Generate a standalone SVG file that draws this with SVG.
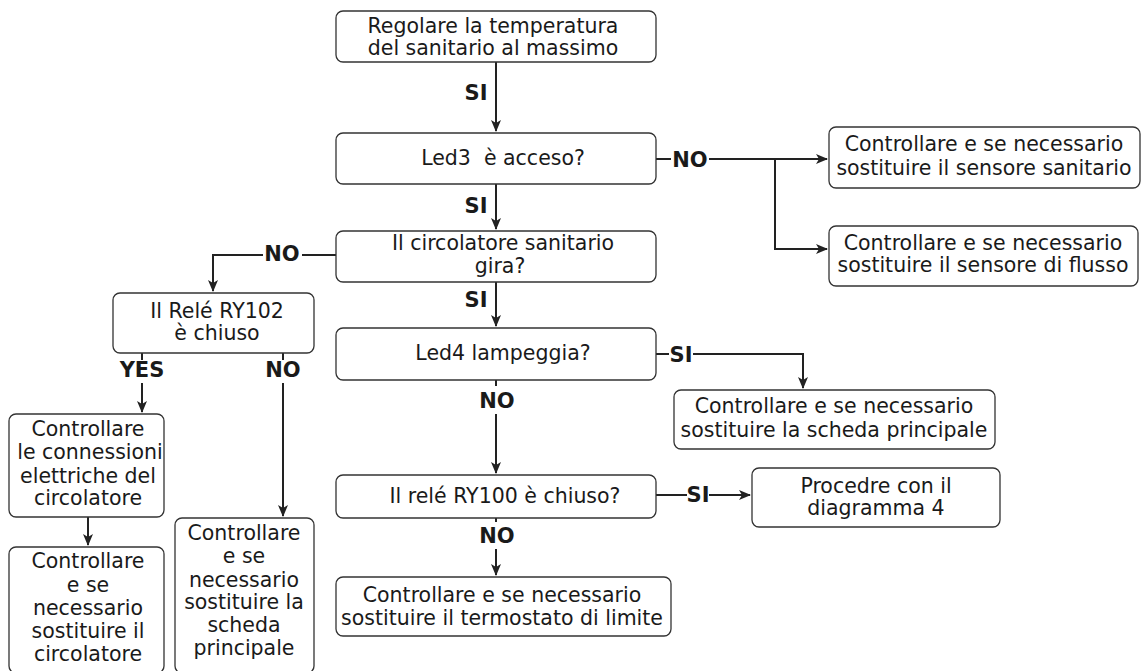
<svg xmlns="http://www.w3.org/2000/svg" width="1142" height="671" viewBox="0 0 1142 671">
<style>
.box{fill:#fff;stroke:#333;stroke-width:1.3}
.t{font-family:"DejaVu Sans","Liberation Sans",sans-serif;font-size:20.5px;fill:#1a1a1a;text-anchor:middle}
.l{font-family:"DejaVu Sans","Liberation Sans",sans-serif;font-size:21px;font-weight:bold;fill:#1a1a1a;text-anchor:middle}
.c{fill:none;stroke:#222;stroke-width:2}
</style>
<defs>
<marker id="ah" markerWidth="12" markerHeight="10" refX="11" refY="5" orient="auto" markerUnits="userSpaceOnUse">
<path d="M0,0 L12,5 L0,10 L3,5 Z" fill="#222"/>
</marker>
</defs>
<rect width="1142" height="671" fill="#fff"/>
<g id="connectors">
<path class="c" d="M496 62 V131" marker-end="url(#ah)"/>
<text class="l" x="476" y="100">SI</text>
<path class="c" d="M496 184 V229" marker-end="url(#ah)"/>
<text class="l" x="476" y="213">SI</text>
<path class="c" d="M496 282 V326" marker-end="url(#ah)"/>
<text class="l" x="476" y="307">SI</text>
<path class="c" d="M496 380 V386"/>
<text class="l" x="497" y="408">NO</text>
<path class="c" d="M496 414 V473" marker-end="url(#ah)"/>
<path class="c" d="M496 518 V522"/>
<text class="l" x="497" y="543">NO</text>
<path class="c" d="M496 549 V575" marker-end="url(#ah)"/>
<path class="c" d="M656 159 H671"/>
<text class="l" x="690" y="167">NO</text>
<path class="c" d="M709 159 H827" marker-end="url(#ah)"/>
<path class="c" d="M775 159 V249 H827" marker-end="url(#ah)"/>
<path class="c" d="M336 255 H302"/>
<text class="l" x="282" y="261">NO</text>
<path class="c" d="M263 255 H213 V291" marker-end="url(#ah)"/>
<path class="c" d="M656 354 H669"/>
<text class="l" x="681" y="362">SI</text>
<path class="c" d="M693 354 H803 V388" marker-end="url(#ah)"/>
<path class="c" d="M656 495 H687"/>
<text class="l" x="698" y="502">SI</text>
<path class="c" d="M709 495 H750" marker-end="url(#ah)"/>
<path class="c" d="M142 353 V360"/>
<text class="l" x="142" y="377">YES</text>
<path class="c" d="M142 383 V412" marker-end="url(#ah)"/>
<path class="c" d="M283 353 V360"/>
<text class="l" x="283" y="377">NO</text>
<path class="c" d="M283 383 V516" marker-end="url(#ah)"/>
<path class="c" d="M88 517 V545" marker-end="url(#ah)"/>
</g>
<g id="n1"><rect class="box" x="336" y="11" width="320" height="51" rx="7"/>
<text class="t" x="493" y="33">Regolare la temperatura</text><text class="t" x="493" y="55">del sanitario al massimo</text></g>
<g id="n2"><rect class="box" x="336" y="133" width="320" height="51" rx="7"/>
<text class="t" x="503" y="165" xml:space="preserve">Led3  è acceso?</text></g>
<g id="n3"><rect class="box" x="336" y="231" width="320" height="51" rx="7"/>
<text class="t" x="503" y="250">Il circolatore sanitario</text><text class="t" x="500" y="273">gira?</text></g>
<g id="n4"><rect class="box" x="336" y="328" width="320" height="52" rx="7"/>
<text class="t" x="503" y="360">Led4 lampeggia?</text></g>
<g id="n5"><rect class="box" x="336" y="475" width="320" height="43" rx="7"/>
<text class="t" x="505" y="503">Il relé RY100 è chiuso?</text></g>
<g id="n6"><rect class="box" x="336" y="577" width="335" height="59" rx="7"/>
<text class="t" x="502" y="602">Controllare e se necessario</text><text class="t" x="502" y="625">sostituire il termostato di limite</text></g>
<g id="n7"><rect class="box" x="829" y="127" width="311" height="61" rx="7"/>
<text class="t" x="984" y="151">Controllare e se necessario</text><text class="t" x="984" y="175">sostituire il sensore sanitario</text></g>
<g id="n8"><rect class="box" x="829" y="226" width="309" height="60" rx="7"/>
<text class="t" x="983" y="250">Controllare e se necessario</text><text class="t" x="983" y="272">sostituire il sensore di flusso</text></g>
<g id="n9"><rect class="box" x="674" y="390" width="321" height="59" rx="7"/>
<text class="t" x="834" y="413">Controllare e se necessario</text><text class="t" x="834" y="437">sostituire la scheda principale</text></g>
<g id="n10"><rect class="box" x="752" y="468" width="248" height="59" rx="7"/>
<text class="t" x="876" y="493">Procedre con il</text><text class="t" x="876" y="515">diagramma 4</text></g>
<g id="n11"><rect class="box" x="113" y="293" width="201" height="60" rx="7"/>
<text class="t" x="217" y="318">Il Relé RY102</text><text class="t" x="217" y="340">è chiuso</text></g>
<g id="n12"><rect class="box" x="9" y="414" width="155" height="103" rx="7"/>
<text class="t" x="88" y="436">Controllare</text><text class="t" x="90" y="459">le connessioni</text><text class="t" x="88" y="483">elettriche del</text><text class="t" x="88" y="505">circolatore</text></g>
<g id="n13"><rect class="box" x="9" y="547" width="155" height="126" rx="7"/>
<text class="t" x="88" y="568">Controllare</text><text class="t" x="88" y="592">e se</text><text class="t" x="88" y="615">necessario</text><text class="t" x="88" y="638">sostituire il</text><text class="t" x="88" y="661">circolatore</text></g>
<g id="n14"><rect class="box" x="175" y="518" width="139" height="155" rx="7"/>
<text class="t" x="244" y="540">Controllare</text><text class="t" x="244" y="563">e se</text><text class="t" x="244" y="587">necessario</text><text class="t" x="244" y="609">sostituire la</text><text class="t" x="244" y="632">scheda</text><text class="t" x="244" y="655">principale</text></g>
</svg>
